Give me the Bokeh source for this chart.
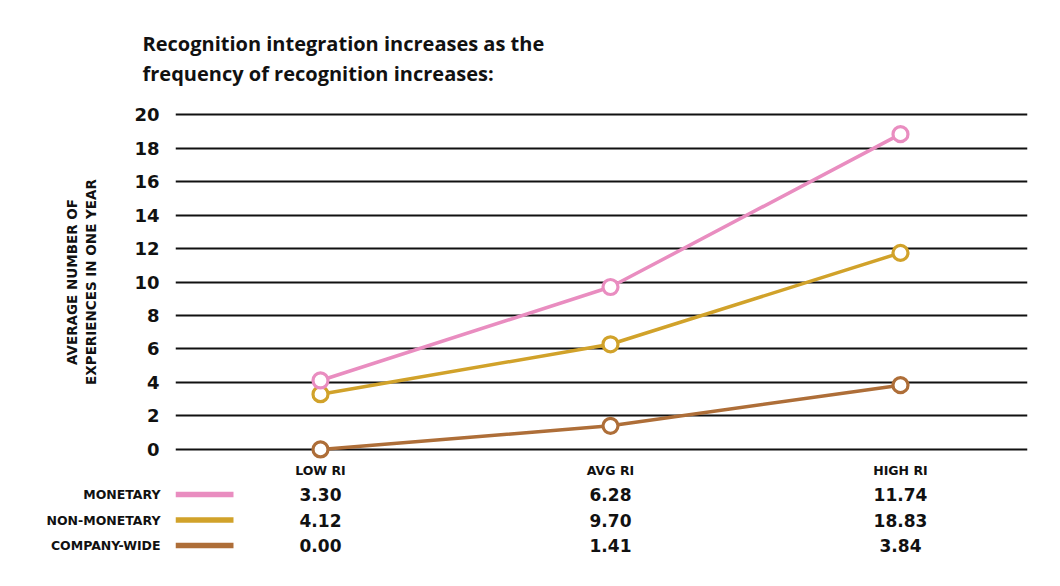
from bokeh.plotting import figure
from bokeh.models import FixedTicker, Range1d, ColumnDataSource
from bokeh.layouts import column
from bokeh.core.properties import value
from bokeh.embed import file_html
from bokeh.resources import INLINE

# ---- data ----
categories = ["LOW RI", "AVG RI", "HIGH RI"]
pink_line = [4.12, 9.70, 18.83]
gold_line = [3.30, 6.28, 11.74]
brown_line = [0.00, 1.41, 3.84]
y_ticks = [0, 2, 4, 6, 8, 10, 12, 14, 16, 18, 20]
table_rows = ["MONETARY", "NON-MONETARY", "COMPANY-WIDE"]
table_values = [["3.30", "6.28", "11.74"],
                ["4.12", "9.70", "18.83"],
                ["0.00", "1.41", "3.84"]]

PINK = "#E98DC0"
GOLD = "#D1A22A"
BROWN = "#AE6E38"
row_colors = [PINK, GOLD, BROWN]
FONT = "Open Sans"
FONT2 = "DejaVu Sans"
TXT = "#111111"

xs = list(range(len(categories)))
x_range = Range1d(-0.5, 2.438)

p = figure(width=1044, height=480, x_range=x_range, y_range=Range1d(-0.6, 20.6),
           output_backend="svg", toolbar_location=None,
           min_border_left=175, min_border_right=17, min_border_top=104, min_border_bottom=20)
p.outline_line_color = None
p.background_fill_color = "white"
p.border_fill_color = "white"

p.title.text = "Recognition integration increases as the\nfrequency of recognition increases:"
p.title.text_font = FONT
p.title.text_font_size = "20px"
p.title.text_font_style = "bold"
p.title.text_color = TXT
p.title.align = "left"
p.title.vertical_align = "top"
p.title.offset = -33
p.title.standoff = 32
p.title.text_line_height = 1.12

# y axis
p.yaxis.ticker = FixedTicker(ticks=y_ticks)
p.yaxis.axis_line_color = None
p.yaxis.major_tick_line_color = None
p.yaxis.minor_tick_line_color = None
p.yaxis.major_tick_out = 0
p.yaxis.major_tick_in = 0
p.yaxis.major_label_text_font = FONT2
p.yaxis.major_label_text_font_size = "18px"
p.yaxis.major_label_text_font_style = "bold"
p.yaxis.major_label_text_color = TXT
p.yaxis.major_label_standoff = 16
p.yaxis.axis_label = "AVERAGE NUMBER OF\nEXPERIENCES IN ONE YEAR"
p.yaxis.axis_label_text_font = FONT2
p.yaxis.axis_label_text_font_size = "13.5px"
p.yaxis.axis_label_text_font_style = "bold"
p.yaxis.axis_label_text_color = TXT
p.yaxis.axis_label_standoff = 32

# x axis
p.xaxis.ticker = FixedTicker(ticks=xs)
p.xaxis.major_label_overrides = {i: c for i, c in enumerate(categories)}
p.xaxis.axis_line_color = None
p.xaxis.major_tick_line_color = None
p.xaxis.minor_tick_line_color = None
p.xaxis.major_tick_out = 0
p.xaxis.major_tick_in = 0
p.xaxis.major_label_text_font = FONT2
p.xaxis.major_label_text_font_size = "12.5px"
p.xaxis.major_label_text_font_style = "bold"
p.xaxis.major_label_text_color = TXT
p.xaxis.major_label_standoff = 3

p.xgrid.grid_line_color = None
p.ygrid.ticker = FixedTicker(ticks=y_ticks)
p.ygrid.grid_line_color = "#111111"
p.ygrid.grid_line_width = 1.8

for ys, col in [(brown_line, BROWN), (gold_line, GOLD), (pink_line, PINK)]:
    p.line(xs, ys, line_color=col, line_width=3.5)
    p.scatter(xs, ys, size=15, fill_color="white", line_color=col, line_width=3.2)

# ---- table ----
t = figure(width=1044, height=100, x_range=x_range, y_range=Range1d(3.37, -0.55),
           output_backend="svg", toolbar_location=None,
           min_border_left=175, min_border_right=17, min_border_top=0, min_border_bottom=0)
t.outline_line_color = None
t.xaxis.visible = False
t.xgrid.grid_line_color = None
t.ygrid.grid_line_color = None
t.yaxis.ticker = FixedTicker(ticks=list(range(len(table_rows))))
t.yaxis.major_label_overrides = {i: r for i, r in enumerate(table_rows)}
t.yaxis.axis_line_color = None
t.yaxis.major_tick_line_color = None
t.yaxis.minor_tick_line_color = None
t.yaxis.major_tick_out = 0
t.yaxis.major_tick_in = 0
t.yaxis.major_label_text_font = FONT2
t.yaxis.major_label_text_font_size = "12.5px"
t.yaxis.major_label_text_font_style = "bold"
t.yaxis.major_label_text_color = TXT
t.yaxis.major_label_standoff = 15

sw_x0 = x_range.start
sw_x1 = x_range.start + 58 / 290
t.segment(x0=[sw_x0] * 3, x1=[sw_x1] * 3, y0=list(range(3)), y1=list(range(3)),
          line_color=row_colors, line_width=5.5)

tx, ty, tt = [], [], []
for r, vals in enumerate(table_values):
    for c, v in enumerate(vals):
        tx.append(c)
        ty.append(r)
        tt.append(v)
src = ColumnDataSource(dict(x=tx, y=ty, text=tt))
t.text(x="x", y="y", text="text", source=src, text_align="center", text_baseline="middle",
       text_font=value(FONT2), text_font_size="17px", text_font_style="bold", text_color=TXT)

layout = column(p, t, spacing=0)
open("out.html", "w").write(file_html(layout, INLINE))
